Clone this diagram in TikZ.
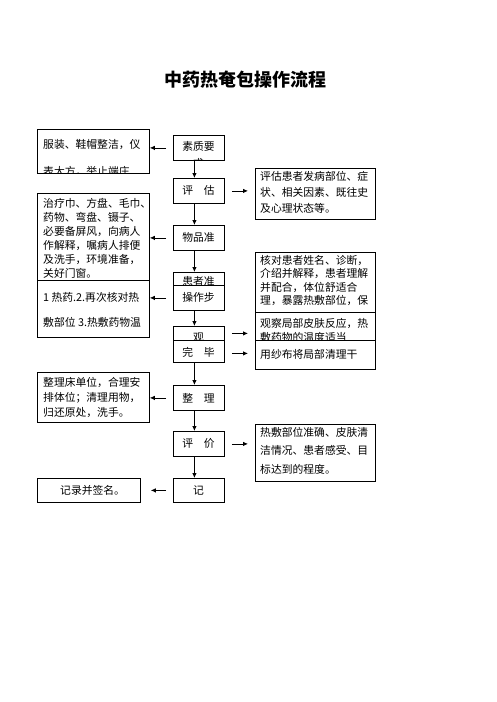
\documentclass[tikz,border=0pt]{standalone}
\usepackage{fontspec}
\newfontfamily\cjk{Noto Sans CJK SC}
\usetikzlibrary{arrows.meta,calc}
\newcommand\bodyfont[1]{\cjk\fontsize{10.8}{#1}\selectfont}
\tikzset{
 box/.style={draw, line width=0.8pt, fill=white, anchor=north west, inner sep=0pt, rectangle},
 txt/.style={anchor=base west, inner sep=0pt, align=left},
 ctxt/.style={anchor=base, inner sep=0pt, align=center},
 arr/.style={line width=0.8pt, -{Latex[length=5pt,width=4.5pt]}},
}
% the base anchor of a multi-line node is the baseline of its last line
\newcommand\fbx[8]{%
 \node[box, minimum width=#4, minimum height=#5] (#1) at (#2,#3) {};
 \begin{scope}\clip (#1.north west) rectangle (#1.south east);
 \node[#6] (#1t) at #7 {#8};
 \end{scope}}
\begin{document}
\begin{tikzpicture}[x=1pt,y=-1pt]
\path[use as bounding box, fill=white] (0,0) rectangle (496,702);
\node[inner sep=0pt, font=\cjk\bfseries\fontsize{18}{20}\selectfont] (title) at (245,80) {中药热奄包操作流程};

% centre column
\fbx{c1}{173}{135}{51}{25}{ctxt, font=\bodyfont{17.5}}{(198.5,167.5)}{素质要\\求}
\fbx{c2}{173}{178}{51}{25}{ctxt, font=\bodyfont{15}}{(198.5,194)}{评　估}
\fbx{c3}{173}{225}{51}{25}{ctxt, font=\bodyfont{15}}{(198.5,241)}{物品准}
\fbx{c4}{173}{272}{51}{25}{ctxt, font=\bodyfont{15}}{(198.5,285)}{患者准}
\fbx{c5}{173}{285}{51}{25}{ctxt, font=\bodyfont{15}}{(198.5,301)}{操作步}
\fbx{c6}{173}{326}{51}{25}{ctxt, font=\bodyfont{15}}{(198.5,341)}{观}
\fbx{c7}{173}{340}{51}{22}{ctxt, font=\bodyfont{15}}{(198.5,356)}{完　毕}
\fbx{c8}{173}{385}{51}{25}{ctxt, font=\bodyfont{15}}{(198.5,402)}{整　理}
\fbx{c9}{173}{431}{51}{25}{ctxt, font=\bodyfont{15}}{(198.5,447)}{评　价}
\fbx{c10}{173}{478}{51}{24}{ctxt, font=\bodyfont{15}}{(198.5,494)}{记}

% left column
\fbx{l1}{37}{129}{112}{44}{txt, font=\bodyfont{27}}{(43,175)}{服装、鞋帽整洁，仪\\表大方，举止端庄}
\fbx{l2}{37}{193}{112}{87}{txt, font=\bodyfont{14}}{(43,277)}{治疗巾、方盘、毛巾、\\药物、弯盘、镊子、\\必要备屏风，向病人\\作解释，嘱病人排便\\及洗手，环境准备，\\关好门窗。}
\fbx{l3}{37}{280}{112}{57}{txt, font=\bodyfont{25}}{(43,326)}{1  热药.2.再次核对热\\敷部位  3.热敷药物温}
\fbx{l4}{37}{372}{112}{50}{txt, font=\bodyfont{15}}{(43,416)}{整理床单位，合理安\\排体位；清理用物，\\归还原处，洗手。}
\fbx{l5}{37}{478}{103}{24}{txt, font=\bodyfont{15}}{(60,494)}{记录并签名。}

% right column
\fbx{r1}{255}{168}{120}{51}{txt, font=\bodyfont{16}}{(260,212)}{评估患者发病部位、症\\状、相关因素、既往史\\及心理状态等。}
\fbx{r2}{255}{252}{120}{60}{txt, font=\bodyfont{13.5}}{(260,304.5)}{核对患者姓名、诊断，\\介绍并解释，患者理解\\并配合，体位舒适合\\理，暴露热敷部位，保}
\fbx{r3}{255}{312}{120}{28}{txt, font=\bodyfont{14}}{(260,341)}{观察局部皮肤反应，热\\敷药物的温度适当}
\fbx{r4}{255}{340}{120}{29}{txt, font=\bodyfont{14}}{(260,358)}{用纱布将局部清理干}
\fbx{r5}{255}{424}{120}{57}{txt, font=\bodyfont{18.5}}{(260,473)}{热敷部位准确、皮肤清\\洁情况、患者感受、目\\标达到的程度。}

% vertical arrows
\draw[arr] ([xshift=-4.5pt]c1.south) -- ([xshift=-4.5pt]c2.north);
\draw[arr] ([xshift=-4.5pt]c2.south) -- ([xshift=-4.5pt]c3.north);
\draw[arr] ([xshift=-4.5pt]c3.south) -- ([xshift=-4.5pt]c4.north);
\draw[arr] ([xshift=-4.5pt]c5.south) -- ([xshift=-4.5pt]c6.north);
\draw[arr] ([xshift=-4.5pt]c7.south) -- ([xshift=-4.5pt]c8.north);
\draw[arr] ([xshift=-4.5pt]c8.south) -- ([xshift=-4.5pt]c9.north);
\draw[arr] ([xshift=-4.5pt]c9.south) -- ([xshift=-4.5pt]c10.north);

% left arrows
\draw[arr, shorten <=7pt] (c1.west) -- (c1.west -| l1.east);
\draw[arr, shorten <=7pt] (c3.west) -- (c3.west -| l2.east);
\draw[arr, shorten <=7pt] (c5.west) -- (c5.west -| l3.east);
\draw[arr, shorten <=7pt] (c8.west) -- (c8.west -| l4.east);
\draw[arr, shorten <=7pt, shorten >=10pt] (c10.west) -- (c10.west -| l5.east);

% right arrows
\draw[arr, shorten <=7pt, shorten >=7pt] (c2.east) -- (c2.east -| r1.west);
\draw[arr, shorten <=7pt, shorten >=7pt] ([yshift=5.5pt]c6.east) -- ([yshift=5.5pt]c6.east -| r3.west);
\draw[arr, shorten <=7pt, shorten >=7pt] ([yshift=-2pt]c7.east) -- ([yshift=-2pt]c7.east -| r4.west);
\draw[arr, shorten <=7pt, shorten >=7pt] (c9.east) -- (c9.east -| r5.west);
\end{tikzpicture}
\end{document}
